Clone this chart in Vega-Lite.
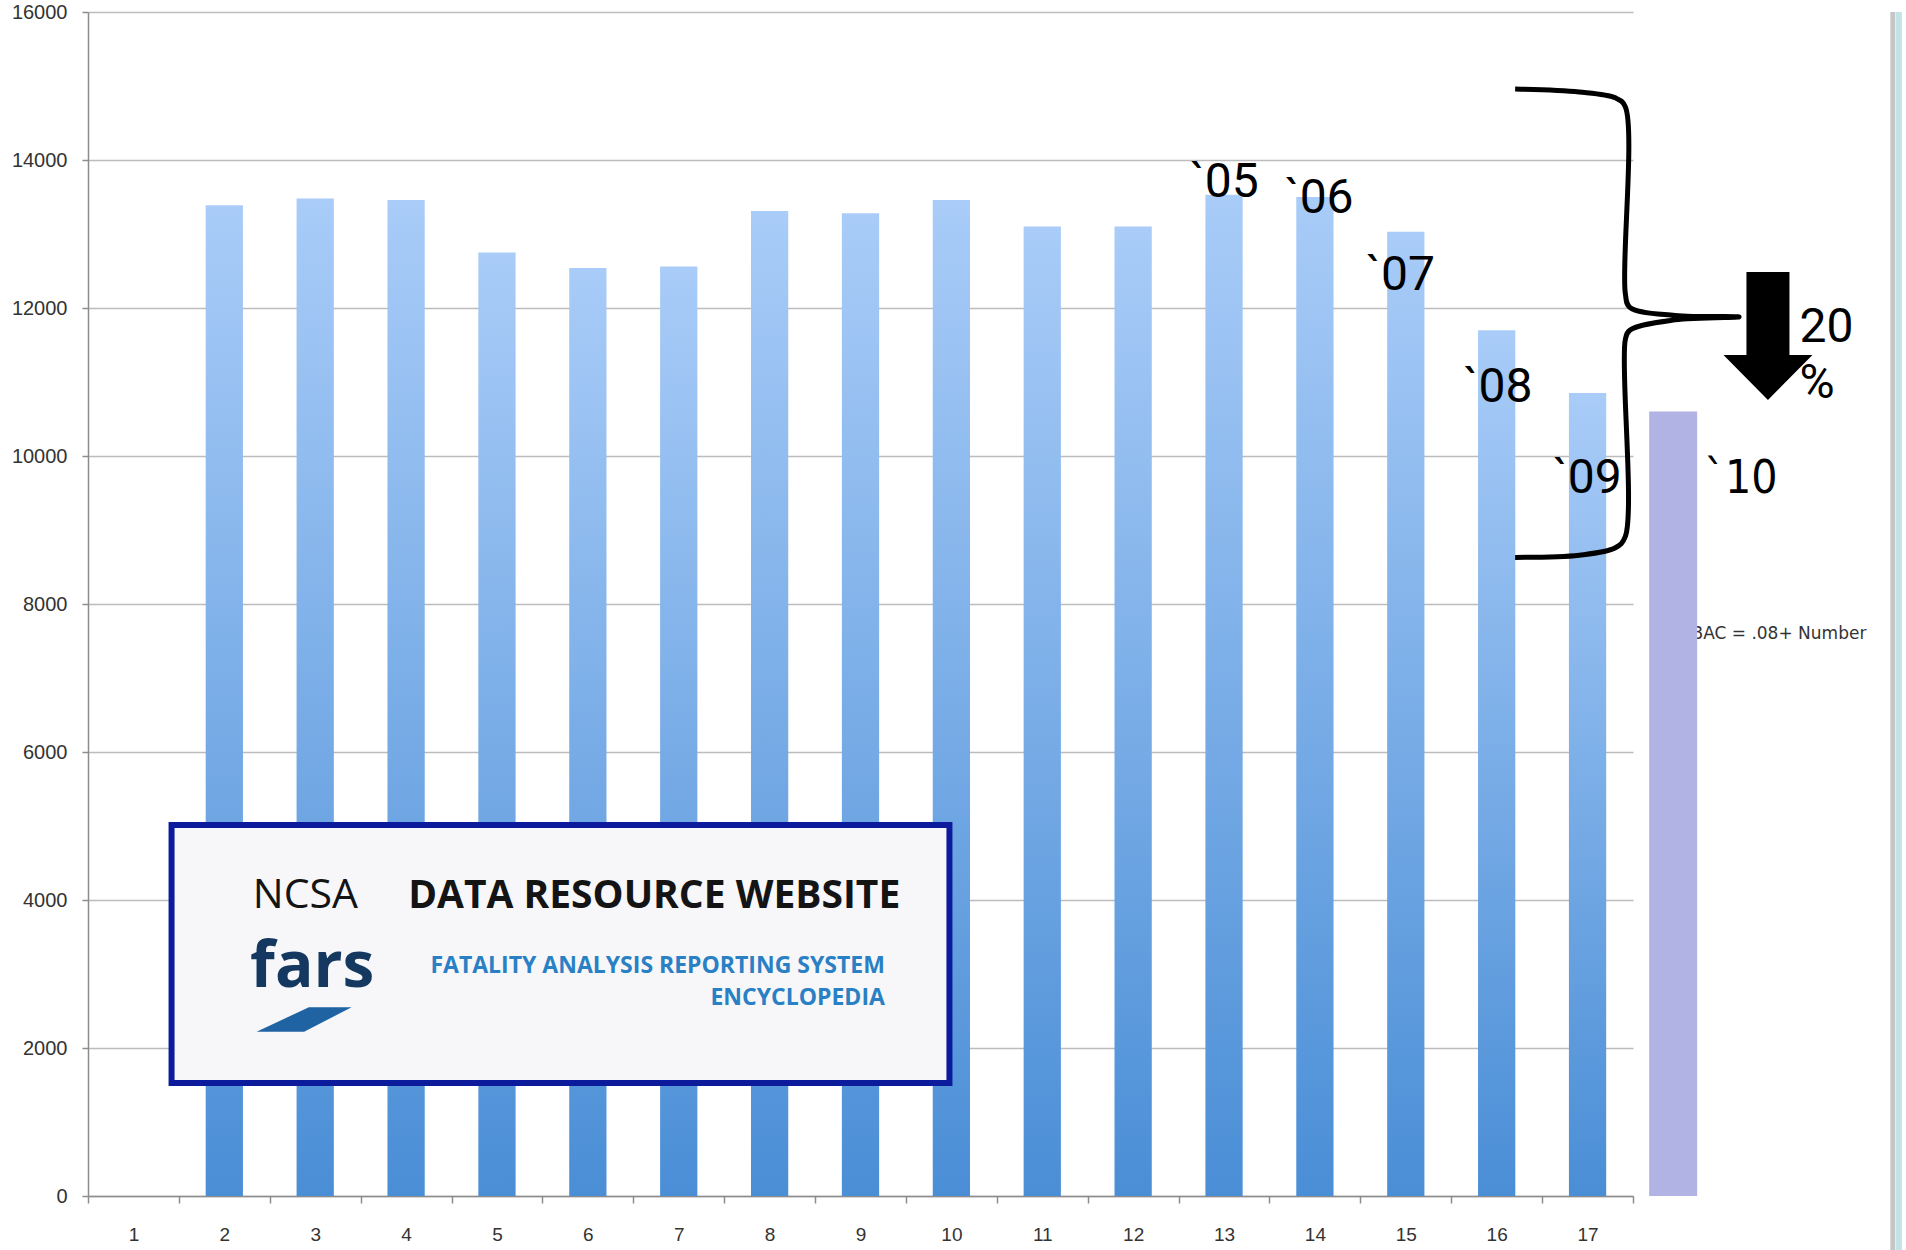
{
  "$schema": "https://vega.github.io/schema/vega-lite/v6.json",
  "width": 1545,
  "height": 1184,
  "autosize": "none",
  "padding": {"left": 88, "top": 12, "right": 273, "bottom": 54},
  "background": "white",
  "config": {"view": {"stroke": null}, "font": "Liberation Sans"},
  "datasets": {
    "fatalities": [
      {"n": 2, "deaths": 13390},
      {"n": 3, "deaths": 13480},
      {"n": 4, "deaths": 13460},
      {"n": 5, "deaths": 12750},
      {"n": 6, "deaths": 12540},
      {"n": 7, "deaths": 12560},
      {"n": 8, "deaths": 13310},
      {"n": 9, "deaths": 13280},
      {"n": 10, "deaths": 13460},
      {"n": 11, "deaths": 13100},
      {"n": 12, "deaths": 13100},
      {"n": 13, "deaths": 13530},
      {"n": 14, "deaths": 13500},
      {"n": 15, "deaths": 13030},
      {"n": 16, "deaths": 11700},
      {"n": 17, "deaths": 10850}
    ],
    "year2010": [{"x": 18, "y": 10600}],
    "yearLabels": [
      {"label": "`05", "x": 13.03, "y": 13500},
      {"label": "`06", "x": 14.08, "y": 13284},
      {"label": "`07", "x": 14.98, "y": 12243},
      {"label": "`08", "x": 16.06, "y": 10730},
      {"label": "`09", "x": 17.05, "y": 9500}
    ],
    "label2010": [{"label": "`10", "x": 18.75, "y": 9500}],
    "pct": [
      {"label": "20", "x": 19.4, "y": 11541},
      {"label": "%", "x": 19.4, "y": 10784}
    ],
    "bac": [{"label": "BAC = .08+ Number", "x": 20.14, "y": 7595}],
    "brace": [
      {"i": 1, "x": 16.25, "y": 14960},
      {"i": 2, "x": 16.96, "y": 14920},
      {"i": 3, "x": 17.36, "y": 14840},
      {"i": 4, "x": 17.47, "y": 14720},
      {"i": 5, "x": 17.47, "y": 12200},
      {"i": 6, "x": 17.52, "y": 12010},
      {"i": 7, "x": 18.02, "y": 11900},
      {"i": 8, "x": 18.73, "y": 11880},
      {"i": 9, "x": 18.02, "y": 11840},
      {"i": 10, "x": 17.52, "y": 11700},
      {"i": 11, "x": 17.47, "y": 11570},
      {"i": 12, "x": 17.47, "y": 8910},
      {"i": 13, "x": 17.36, "y": 8760},
      {"i": 14, "x": 16.96, "y": 8660},
      {"i": 15, "x": 16.25, "y": 8630}
    ],
    "arrow": [{"x": 19.05, "y": 11622}],
    "logoBox": [{"x": 1.37, "x2": 9.985, "y": 5014, "y2": 1527}],
    "logoNcsa": [{"label": "NCSA", "x": 2.27, "y": 3892}],
    "logoHead": [{"label": "DATA RESOURCE WEBSITE", "x": 3.99, "y": 3892}],
    "logoFars": [{"label": "fars", "x": 2.24, "y": 2824}],
    "logoSwoosh": [{"x": 2.838, "y": 2385}],
    "logoSub": [
      {"label": "FATALITY ANALYSIS REPORTING SYSTEM", "x": 9.27, "y": 3014},
      {"label": "ENCYCLOPEDIA", "x": 9.27, "y": 2581}
    ],
    "frameGray": [{"x": 20.433, "y": 16000, "y2": -4500}],
    "frameCyan": [{"x": 20.5, "y": 16000, "y2": -4500}]
  },
  "layer": [
    {
      "data": {"name": "fatalities"},
      "mark": {
        "type": "bar",
        "width": {"band": 0.41},
        "color": {
          "gradient": "linear",
          "x1": 0, "y1": 0, "x2": 0, "y2": 1,
          "stops": [
            {"offset": 0, "color": "#a9ccf8"},
            {"offset": 1, "color": "#4a8ed6"}
          ]
        }
      },
      "encoding": {
        "x": {
          "field": "n",
          "type": "ordinal",
          "scale": {"domain": [1,2,3,4,5,6,7,8,9,10,11,12,13,14,15,16,17], "paddingInner": 0, "paddingOuter": 0},
          "axis": {
            "title": null,
            "labelAngle": 0,
            "tickBand": "extent",
            "labelFontSize": 19,
            "labelColor": "#333333",
            "labelPadding": 22,
            "tickSize": 7,
            "tickColor": "#8c8c8c",
            "tickWidth": 1.5,
            "domainColor": "#8c8c8c",
            "domainWidth": 1.5,
            "grid": false
          }
        },
        "y": {
          "field": "deaths",
          "type": "quantitative",
          "scale": {"domain": [0, 16000], "nice": false},
          "axis": {
            "title": null,
            "values": [0, 2000, 4000, 6000, 8000, 10000, 12000, 14000, 16000],
            "format": "d",
            "labelFontSize": 20,
            "labelColor": "#333333",
            "labelPadding": 15,
            "tickSize": 6,
            "tickColor": "#8c8c8c",
            "tickWidth": 1.5,
            "domainColor": "#8c8c8c",
            "domainWidth": 1.5,
            "grid": true,
            "gridColor": "#bcbcbc",
            "gridWidth": 1.5
          }
        }
      }
    },
    {
      "encoding": {
        "x": {"field": "x", "type": "quantitative", "scale": {"domain": [0.5, 17.5], "nice": false, "zero": false}, "axis": null},
        "y": {
          "field": "y",
          "type": "quantitative",
          "scale": {"domain": [0, 16000], "nice": false},
          "axis": {
            "title": null,
            "values": [0, 2000, 4000, 6000, 8000, 10000, 12000, 14000, 16000],
            "format": "d",
            "labelFontSize": 20,
            "labelColor": "#333333",
            "labelPadding": 15,
            "tickSize": 6,
            "tickColor": "#8c8c8c",
            "tickWidth": 1.5,
            "domainColor": "#8c8c8c",
            "domainWidth": 1.5,
            "grid": true,
            "gridColor": "#bcbcbc",
            "gridWidth": 1.5
          }
        }
      },
      "layer": [
        {
          "data": {"name": "logoBox"},
          "mark": {"type": "rect", "fill": "#f7f7f9", "stroke": "#0c1b9c", "strokeWidth": 6},
          "encoding": {
            "x2": {"field": "x2"},
            "y2": {"field": "y2"}
          }
        },
        {
          "data": {"name": "logoNcsa"},
          "mark": {"type": "text", "align": "left", "baseline": "alphabetic", "font": "Open Sans", "fontWeight": "normal", "fontSize": 41, "color": "#141414"},
          "encoding": {"text": {"field": "label"}}
        },
        {
          "data": {"name": "logoHead"},
          "mark": {"type": "text", "align": "left", "baseline": "alphabetic", "font": "Open Sans", "fontWeight": "bold", "fontSize": 39, "color": "#141414"},
          "encoding": {"text": {"field": "label"}}
        },
        {
          "data": {"name": "logoFars"},
          "mark": {"type": "text", "align": "left", "baseline": "alphabetic", "font": "Open Sans", "fontWeight": "bold", "fontSize": 64, "color": "#14385f"},
          "encoding": {"text": {"field": "label"}}
        },
        {
          "data": {"name": "logoSwoosh"},
          "mark": {"type": "point", "shape": "M0.1,-0.26L1,-0.26L0,0.26L-1,0.26Z", "size": 9025, "filled": true, "color": "#1f63a3", "opacity": 1, "strokeWidth": 0}
        },
        {
          "data": {"name": "logoSub"},
          "mark": {"type": "text", "align": "right", "baseline": "alphabetic", "font": "Open Sans", "fontWeight": "bold", "fontSize": 23, "color": "#2a80c4"},
          "encoding": {"text": {"field": "label"}}
        },
        {
          "data": {"name": "brace"},
          "mark": {"type": "line", "color": "black", "strokeWidth": 5, "interpolate": "catmull-rom"},
          "encoding": {"order": {"field": "i", "type": "quantitative"}}
        },
        {
          "data": {"name": "bac"},
          "mark": {"type": "text", "align": "right", "baseline": "middle", "font": "DejaVu Sans", "fontSize": 17, "color": "#333333"},
          "encoding": {"text": {"field": "label"}}
        },
        {
          "data": {"name": "year2010"},
          "mark": {"type": "bar", "orient": "vertical", "width": 48, "color": "#b1b3e4"}
        },
        {
          "data": {"name": "yearLabels"},
          "mark": {"type": "text", "align": "center", "baseline": "alphabetic", "font": "Roboto", "fontSize": 48, "color": "black"},
          "encoding": {"text": {"field": "label"}}
        },
        {
          "data": {"name": "label2010"},
          "mark": {"type": "text", "align": "center", "baseline": "alphabetic", "font": "DejaVu Sans Condensed, DejaVu Sans", "fontSize": 46, "color": "black"},
          "encoding": {"text": {"field": "label"}}
        },
        {
          "data": {"name": "pct"},
          "mark": {"type": "text", "align": "left", "baseline": "alphabetic", "font": "Roboto", "fontSize": 48, "color": "black"},
          "encoding": {"text": {"field": "label"}}
        },
        {
          "data": {"name": "arrow"},
          "mark": {"type": "point", "shape": "M-0.336,-1L0.336,-1L0.336,0.297L0.695,0.297L0,1L-0.695,0.297L-0.336,0.297Z", "size": 16384, "filled": true, "color": "black", "opacity": 1, "strokeWidth": 0}
        },
        {
          "data": {"name": "frameGray"},
          "mark": {"type": "rule", "color": "#c6c6c6", "strokeWidth": 5},
          "encoding": {"y2": {"field": "y2"}}
        },
        {
          "data": {"name": "frameCyan"},
          "mark": {"type": "rule", "color": "#c2e4e8", "strokeWidth": 6},
          "encoding": {"y2": {"field": "y2"}}
        }
      ]
    }
  ],
  "resolve": {"scale": {"x": "independent"}}
}
